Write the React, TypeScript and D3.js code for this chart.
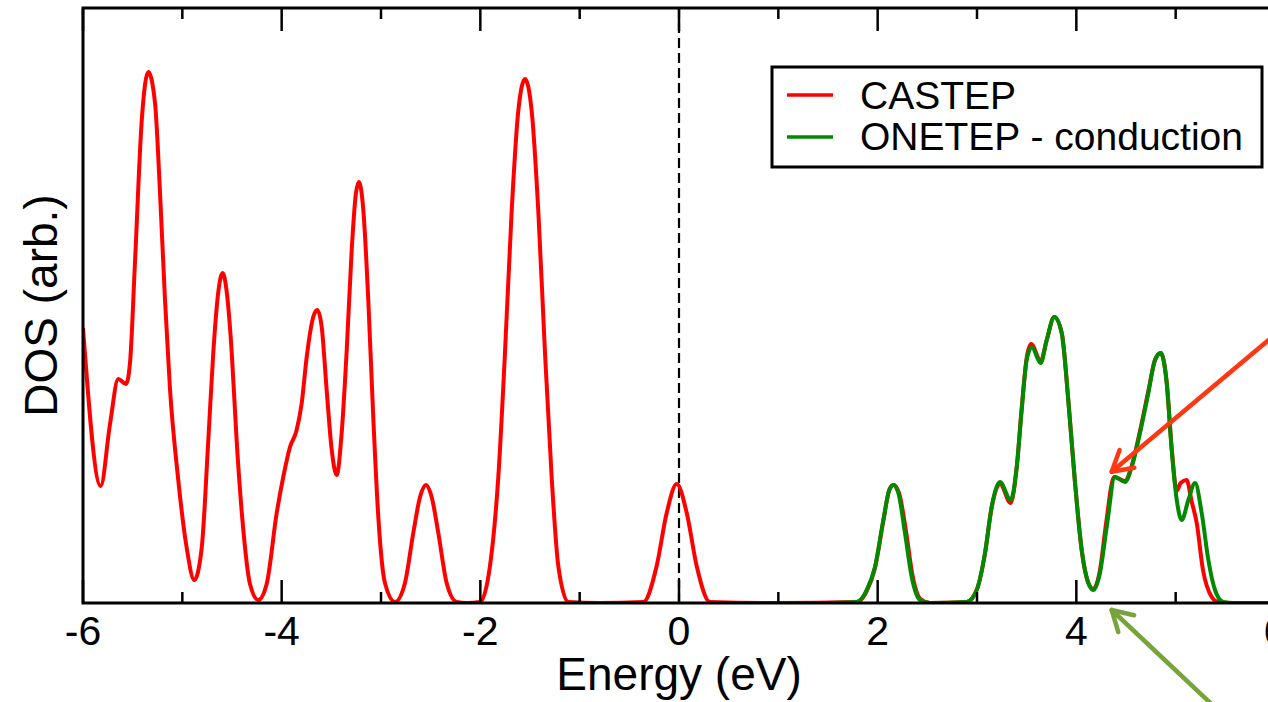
import React from 'react';
import * as d3 from 'd3';

// ---- Data ----
const castepEnergy = [
  -6.0, -5.822, -5.728, -5.645, -5.567, -5.527, -5.477, -5.409, -5.343, -5.275, -5.225, -5.175, -5.125, -5.044,
  -4.956, -4.88, -4.805, -4.739, -4.688, -4.638, -4.594, -4.553, -4.503, -4.453, -4.386, -4.319, -4.235, -4.151,
  -4.05, -3.984, -3.916, -3.849, -3.798, -3.748, -3.682, -3.641, -3.597, -3.547, -3.496, -3.446, -3.396, -3.345,
  -3.295, -3.252, -3.222, -3.178, -3.128, -3.078, -3.027, -2.96, -2.859, -2.759, -2.675, -2.607, -2.547, -2.49,
  -2.423, -2.339, -2.238, -2.137, -2.003, -1.903, -1.819, -1.752, -1.684, -1.618, -1.55, -1.483, -1.417, -1.349,
  -1.282, -1.215, -1.114, -0.8, -0.359, -0.225, -0.124, -0.023, 0.078, 0.178, 0.312, 1.0, 1.789, 1.89, 1.973,
  2.057, 2.117, 2.16, 2.215, 2.285, 2.35, 2.43, 2.527, 2.896, 2.997, 3.081, 3.148, 3.232, 3.339, 3.4, 3.45, 3.5,
  3.545, 3.641, 3.702, 3.778, 3.853, 3.919, 3.987, 4.054, 4.121, 4.171, 4.238, 4.3, 4.38, 4.49, 4.557, 4.641,
  4.725, 4.792, 4.85, 4.91, 4.96, 5.011, 5.05, 5.11, 5.16, 5.212, 5.275, 5.363, 5.426, 5.55, 6.0,
];
const castepDos = [
  2.75, 1.17, 1.79, 2.24, 2.19, 2.4, 3.4, 4.82, 5.31, 5.0, 4.11, 3.04, 2.15, 1.26,
  0.55, 0.23, 0.55, 1.62, 2.51, 3.11, 3.3, 3.11, 2.51, 1.62, 0.73, 0.19, 0.03, 0.19,
  0.9, 1.26, 1.56, 1.73, 2.0, 2.46, 2.86, 2.93, 2.76, 2.13, 1.53, 1.28, 1.7, 2.53,
  3.53, 4.1, 4.21, 3.93, 3.03, 1.86, 0.86, 0.2, 0.01, 0.2, 0.7, 1.06, 1.18, 1.06,
  0.7, 0.2, 0.01, 0.0, 0.01, 0.37, 1.26, 2.5, 3.93, 4.92, 5.24, 4.92, 3.93, 2.5,
  1.26, 0.37, 0.01, 0.0, 0.01, 0.37, 0.9, 1.19, 0.9, 0.37, 0.01, 0.0, 0.01, 0.12, 0.35,
  0.82, 1.13, 1.18, 1.1, 0.72, 0.28, 0.04, 0.0, 0.01, 0.13, 0.5, 0.96, 1.19, 1.0, 1.36, 1.95, 2.45,
  2.59, 2.42, 2.63, 2.86, 2.7, 2.03, 1.2, 0.53, 0.2, 0.14, 0.33, 0.8, 1.26, 1.22, 1.37, 1.72,
  2.12, 2.43, 2.5, 2.2, 1.55, 1.12, 1.2, 1.23, 1.02, 0.8, 0.33, 0.06, 0.01, 0.0, 0.0,
];
const onetepEnergy = [
  1.5, 1.789, 1.89, 1.973, 2.057, 2.117, 2.157, 2.208, 2.275, 2.343, 2.426, 2.527, 2.896, 2.997, 3.081, 3.148,
  3.232, 3.339, 3.4, 3.45, 3.5, 3.551, 3.641, 3.702, 3.778, 3.853, 3.919, 3.987, 4.054, 4.121, 4.171, 4.238,
  4.306, 4.389, 4.49, 4.557, 4.641, 4.725, 4.792, 4.85, 4.91, 4.96, 5.011, 5.061, 5.128, 5.195, 5.262, 5.329,
  5.396, 5.48, 5.58, 6.0,
];
const onetepDos = [
  0.0, 0.01, 0.13, 0.36, 0.83, 1.13, 1.18, 1.1, 0.7, 0.26, 0.03, 0.0, 0.01, 0.13, 0.5, 0.96,
  1.21, 1.03, 1.36, 1.93, 2.43, 2.56, 2.4, 2.63, 2.86, 2.7, 2.03, 1.2, 0.53, 0.2, 0.13, 0.3,
  0.76, 1.26, 1.21, 1.36, 1.7, 2.1, 2.43, 2.5, 2.2, 1.53, 1.03, 0.83, 1.03, 1.2, 0.9, 0.43,
  0.13, 0.01, 0.0, 0.0,
];
const majorTicks = [-6, -4, -2, 0, 2, 4, 6];
const minorTicks = [-5, -3, -1, 1, 3, 5];
const tickLabels = ['-6', '-4', '-2', '0', '2', '4', '6'];
const legendLabels = ['CASTEP', 'ONETEP - conduction'];
const seriesColors = ['#ff0000', '#008a00'];
const xTitle = 'Energy (eV)';
const yTitle = 'DOS (arb.)';
// annotation arrows (data coordinates): [tailE, tailDos, tipE, tipDos]
const arrowRed = [6.2, 2.85, 4.356, 1.313];
const arrowGreen = [5.36, -1.01, 4.356, -0.07];

const W = 1268;
const H = 702;
const FONT = '"Liberation Sans", Arial, Helvetica, sans-serif';

export default function App() {
  React.useEffect(() => {
    document.body.style.margin = '0';
  }, []);

  const x = d3.scaleLinear().domain([-6, 6]).range([83, 1275]);
  const y = d3.scaleLinear().domain([0, 5.95]).range([603, 8]);
  const x0 = x(-6), x1 = x(6), yb = y(0), yt = y(5.95);

  const mk = (es: number[], ds: number[]) =>
    d3
      .line<number>()
      .x((e) => x(e))
      .y((_, i) => y(ds[i]))
      .curve(d3.curveMonotoneX)(es) as string;

  const arrow = (a: number[], color: string) => {
    const tx = x(a[0]), ty = y(a[1]), hx = x(a[2]), hy = y(a[3]);
    const ang = Math.atan2(ty - hy, tx - hx);
    const L = 23;
    const sp = (30 * Math.PI) / 180;
    const b1 = [hx + L * Math.cos(ang + sp), hy + L * Math.sin(ang + sp)];
    const b2 = [hx + L * Math.cos(ang - sp), hy + L * Math.sin(ang - sp)];
    return (
      <g stroke={color} strokeWidth={4.5} fill="none" strokeLinecap="round" strokeLinejoin="round">
        <line x1={tx} y1={ty} x2={hx} y2={hy} />
        <polyline points={`${b1[0]},${b1[1]} ${hx},${hy} ${b2[0]},${b2[1]}`} />
      </g>
    );
  };

  return (
    <svg width={W} height={H} style={{ display: 'block', position: 'absolute', left: 0, top: 0, background: '#fff' }}>
      <defs>
        <clipPath id="plot">
          <rect x={x0} y={yt} width={x1 - x0} height={yb - yt} />
        </clipPath>
      </defs>
      <rect x={0} y={0} width={W} height={H} fill="#fff" />
      {/* zero dashed line */}
      <line x1={x(0)} x2={x(0)} y1={yt} y2={yb} stroke="#000" strokeWidth={2.2} strokeDasharray="10,5" />
      {/* curves */}
      <g clipPath="url(#plot)" fill="none" strokeWidth={4} strokeLinejoin="round">
        <path d={mk(castepEnergy, castepDos)} stroke={seriesColors[0]} />
        <path d={mk(onetepEnergy, onetepDos)} stroke={seriesColors[1]} />
      </g>
      {/* ticks */}
      <g stroke="#000" strokeWidth={2.5}>
        {majorTicks.map((t) => (
          <g key={'M' + t}>
            <line x1={x(t)} x2={x(t)} y1={yb} y2={yb - 23} />
            <line x1={x(t)} x2={x(t)} y1={yt} y2={yt + 23} />
          </g>
        ))}
        {minorTicks.map((t) => (
          <g key={'m' + t}>
            <line x1={x(t)} x2={x(t)} y1={yb} y2={yb - 11} />
            <line x1={x(t)} x2={x(t)} y1={yt} y2={yt + 11} />
          </g>
        ))}
      </g>
      {/* frame */}
      <rect x={x0} y={yt} width={x1 - x0} height={yb - yt} fill="none" stroke="#000" strokeWidth={3} />
      {/* tick labels */}
      <g fontFamily={FONT} fontSize={41} textAnchor="middle" fill="#000">
        {majorTicks.map((t, i) => (
          <text key={t} x={x(t)} y={645}>
            {tickLabels[i]}
          </text>
        ))}
      </g>
      <text x={x(0)} y={690} fontFamily={FONT} fontSize={46} textAnchor="middle">
        {xTitle}
      </text>
      <text
        transform={`translate(57,${(yt + yb) / 2}) rotate(-90)`}
        fontFamily={FONT}
        fontSize={46}
        textAnchor="middle"
      >
        {yTitle}
      </text>
      {/* legend */}
      <rect x={772} y={67} width={490} height={100} fill="#fff" stroke="#000" strokeWidth={3} />
      {legendLabels.map((lab, i) => (
        <g key={lab}>
          <line x1={787} x2={833} y1={95 + i * 42} y2={95 + i * 42} stroke={seriesColors[i]} strokeWidth={3.5} />
          <text x={860} y={109 + i * 41} fontFamily={FONT} fontSize={39}>
            {lab}
          </text>
        </g>
      ))}
      {/* annotation arrows */}
      {arrow(arrowRed, '#ff3814')}
      {arrow(arrowGreen, '#76a33a')}
    </svg>
  );
}
